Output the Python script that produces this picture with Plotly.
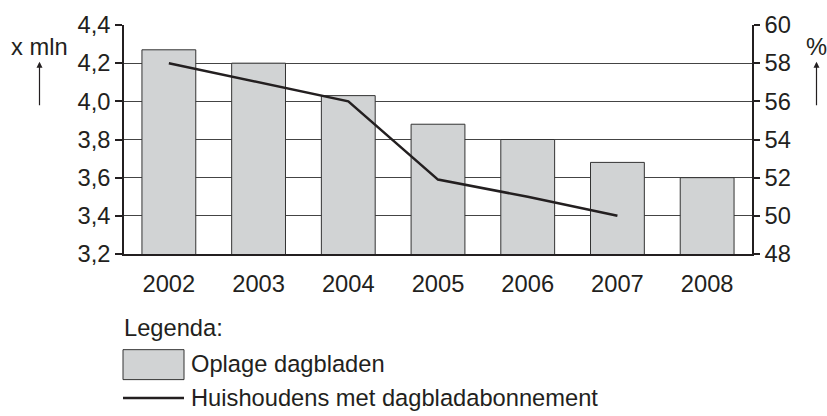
import plotly.graph_objects as go

years = ["2002", "2003", "2004", "2005", "2006", "2007", "2008"]
oplage = [4.27, 4.20, 4.03, 3.88, 3.80, 3.68, 3.60]          # x mln
line_years = ["2002", "2003", "2004", "2005", "2006", "2007"]
huishoudens = [58, 57, 56, 51.9, 51, 50]                      # %

W, H = 827, 416
L, R, T, B = 124, 752, 17, 254
pw, ph = R - L, B - T

def px(x):
    return (x - L) / pw

def py(y):
    return (B - y) / ph

FONT = "Liberation Sans, Arial, sans-serif"
TXT = "#231f20"
FS = 23.7

fig = go.Figure()
fig.add_trace(go.Bar(
    x=years, y=oplage, name="Oplage dagbladen",
    marker=dict(color="#d1d3d4", line=dict(color="#333333", width=1)),
    showlegend=False, hoverinfo="skip",
))
fig.add_trace(go.Scatter(
    x=line_years, y=huishoudens, name="Huishoudens met dagbladabonnement",
    yaxis="y2", mode="lines", line=dict(color=TXT, width=2.5),
    showlegend=False, hoverinfo="skip",
))

fig.update_layout(
    width=W, height=H,
    margin=dict(l=L, r=W - R, t=T, b=H - B, pad=0),
    paper_bgcolor="white", plot_bgcolor="white",
    separators=",.",
    bargap=0.4,
    font=dict(family=FONT, size=FS, color=TXT),
    xaxis=dict(
        type="category", showgrid=False, showline=True, linecolor=TXT, linewidth=1.5,
        ticks="outside", ticklen=8, tickcolor="rgba(0,0,0,0)",
        tickfont=dict(size=FS, color=TXT), fixedrange=True,
    ),
    yaxis=dict(
        range=[3.2, 4.4], dtick=0.2, tick0=3.2, tickformat=".1f",
        showgrid=True, gridcolor="#444444", gridwidth=1,
        showline=True, linecolor=TXT, linewidth=1.5,
        ticks="outside", ticklen=7, tickcolor=TXT, tickwidth=1.5,
        tickfont=dict(size=FS, color=TXT), zeroline=False,
    ),
    yaxis2=dict(
        range=[48, 60], dtick=2, tick0=48, overlaying="y", side="right",
        showgrid=False, showline=True, linecolor=TXT, linewidth=1.5,
        ticks="outside", ticklen=6, tickcolor=TXT, tickwidth=1.5,
        tickfont=dict(size=FS, color=TXT), zeroline=False,
    ),
)

# axis unit labels with arrows
fig.add_annotation(x=px(39), y=py(40), xref="paper", yref="paper", text="x mln",
                   showarrow=False, xanchor="center", yanchor="middle",
                   font=dict(size=FS, color=TXT))
fig.add_annotation(x=px(816), y=py(40), xref="paper", yref="paper", text="%",
                   showarrow=False, xanchor="center", yanchor="middle",
                   font=dict(size=FS, color=TXT))
for xa in (39.5, 816.5):
    fig.add_annotation(x=px(xa), y=py(55), xref="paper", yref="paper", text="",
                       showarrow=True, ax=0, ay=45, axref="pixel", ayref="pixel",
                       arrowhead=2, arrowsize=1, arrowwidth=1.2, arrowcolor=TXT)

# legend
fig.add_annotation(x=px(122), y=py(331), xref="paper", yref="paper", text="Legenda:",
                   showarrow=False, xanchor="left", yanchor="middle",
                   font=dict(size=FS, color=TXT))
fig.add_shape(type="rect", xref="paper", yref="paper",
              x0=px(123), x1=px(184), y0=py(384), y1=py(353),
              fillcolor="#d1d3d4", line=dict(color="#333333", width=1))
fig.add_annotation(x=px(189), y=py(368), xref="paper", yref="paper", text="Oplage dagbladen",
                   showarrow=False, xanchor="left", yanchor="middle",
                   font=dict(size=FS, color=TXT))
fig.add_shape(type="line", xref="paper", yref="paper",
              x0=px(123), x1=px(184), y0=py(403), y1=py(403),
              line=dict(color=TXT, width=2.5))
fig.add_annotation(x=px(189), y=py(403), xref="paper", yref="paper",
                   text="Huishoudens met dagbladabonnement",
                   showarrow=False, xanchor="left", yanchor="middle",
                   font=dict(size=FS, color=TXT))

fig.write_html(
    "out.html",
    config={"displayModeBar": False},
    post_script="document.body.style.margin='0';document.body.style.padding='0';"
                "document.documentElement.style.overflow='hidden';",
)
